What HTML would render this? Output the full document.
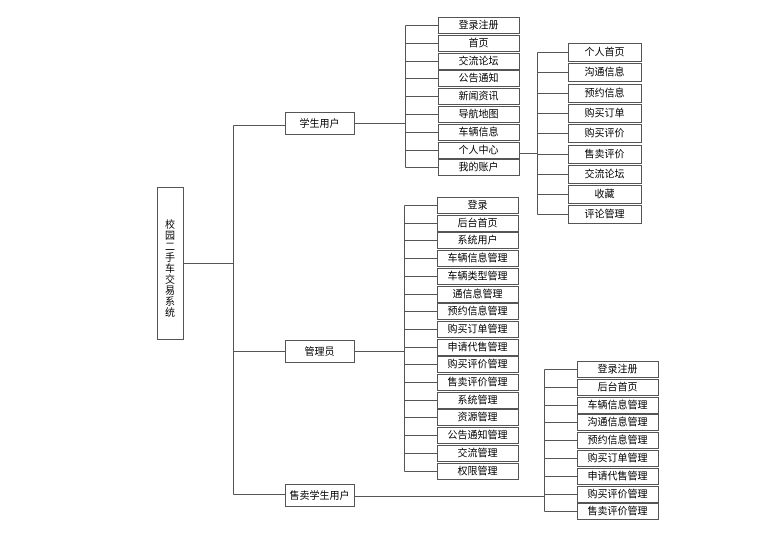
<!DOCTYPE html>
<html><head><meta charset="utf-8"><style>
html,body{margin:0;padding:0;background:#fff;width:760px;height:538px;overflow:hidden}
svg text{font-family:"Liberation Sans","Noto Sans CJK SC",sans-serif;font-size:10px;fill:#000}
</style></head><body>
<svg id="s" width="760" height="538" xmlns="http://www.w3.org/2000/svg"></svg>
<script>
var s=document.getElementById('s'),h='';
function R(x,y,w,hh){h+='<rect x="'+(x+.5)+'" y="'+(y+.5)+'" width="'+w+'" height="'+hh+'" fill="#fff" stroke="#555" stroke-width="1"/>';}
function L(x1,y1,x2,y2){h+='<line x1="'+(x1+.5)+'" y1="'+(y1+.5)+'" x2="'+(x2+.5)+'" y2="'+(y2+.5)+'" stroke="#555" stroke-width="1"/>';}
function T(x,y,t){h+='<text x="'+x+'" y="'+y+'" text-anchor="middle">'+t+'</text>';}
// root
L(183,263,233,263);L(233,125,233,494);
L(233,125,285,125);L(233,351,285,351);L(233,494,285,494);
R(157,187,26,152);
var rt='校园二手车交易系统';for(var i=0;i<rt.length;i++)T(170,228+i*11,rt[i]);
function group(bx,bw,top,pitch,hh,items,busTop,busBot){
  L(bx,busTop,bx,busBot);
  for(var i=0;i<items.length;i++){var y=top+i*pitch;var cy=Math.round(y+hh/2);L(bx,cy,bx+33,cy);}
}
function boxes(x,w,top,pitch,hh,items,bus){
  var ys=[];
  for(var i=0;i<items.length;i++){var y=Math.round(top+i*pitch);var cy=Math.round(y+hh/2);L(bus,cy,x,cy);R(x,y,w,hh);T(x+w/2,y+hh/2+3.5,items[i]);ys.push(cy);}
  L(bus,ys[0],bus,ys[ys.length-1]);return ys;
}
// student
L(354,123,405,123);
var ys1=boxes(438,81,17,17.8,16,['登录注册','首页','交流论坛','公告通知','新闻资讯','导航地图','车辆信息','个人中心','我的账户'],405);
R(285,112,69,22);T(319.5,127,'学生用户');
L(519,153,537,153);
boxes(568,73,43,20.3,18,['个人首页','沟通信息','预约信息','购买订单','购买评价','售卖评价','交流论坛','收藏','评论管理'],537);
// admin
L(354,351,404,351);
boxes(437,81,197,17.7,16,['登录','后台首页','系统用户','车辆信息管理','车辆类型管理','通信息管理','预约信息管理','购买订单管理','申请代售管理','购买评价管理','售卖评价管理','系统管理','资源管理','公告通知管理','交流管理','权限管理'],404);
R(285,340,69,22);T(319.5,355,'管理员');
// seller
L(354,496,544,496);
boxes(577,81,361,17.8,16,['登录注册','后台首页','车辆信息管理','沟通信息管理','预约信息管理','购买订单管理','申请代售管理','购买评价管理','售卖评价管理'],544);
R(285,484,69,22);T(319.5,499,'售卖学生用户');
s.innerHTML=h;
</script>
</body></html>
